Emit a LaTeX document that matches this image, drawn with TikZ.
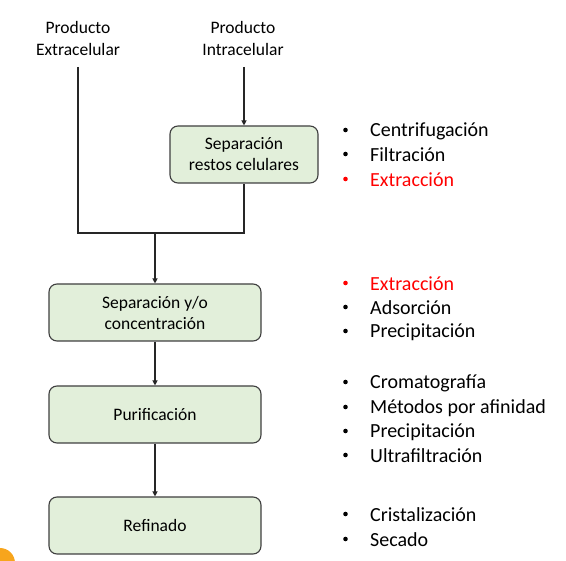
\documentclass[tikz,border=0pt]{standalone}
\usepackage{fontspec}
\setmainfont{Carlito}
\usetikzlibrary{arrows.meta}
\definecolor{boxfill}{HTML}{E2EFDA}
\definecolor{boxline}{HTML}{3F3F3F}
\definecolor{orangedot}{HTML}{F7A51C}
\begin{document}
\begin{tikzpicture}[x=1pt,y=-1pt,
  stepbox/.style={draw=boxline, line width=1.1pt, fill=boxfill, rounded corners=8pt,
    minimum width=212pt, minimum height=57pt, align=center, font=\fontsize{17.5}{21}\selectfont, inner sep=0pt},
  lbl/.style={align=center, font=\fontsize{17.5}{22}\selectfont, inner sep=0pt},
  conn/.style={draw=black!85, line width=1.1pt},
  arr/.style={conn, -{Triangle[length=5pt,width=5pt]}},
  item/.style={anchor=west, font=\fontsize{20}{22}\selectfont, inner sep=0pt},
  bul/.style={circle, inner sep=0pt, minimum size=4.6pt}
]
\useasboundingbox (0,0) rectangle (566,561);
\begin{scope}
\clip (0,0) rectangle (566,561);
\fill[orangedot] (0,563) circle (15);
\end{scope}

\node[lbl] (pe) at (78,38) {Producto\\Extracelular};
\node[lbl] (pi) at (243,38) {Producto\\Intracelular};
\coordinate (peb) at (78,67);
\coordinate (pib) at (244,67);

\node[stepbox, minimum width=148pt] (src) at (244,154.5) {Separación\\restos celulares};
\node[stepbox] (sep) at (155,312.5) {Separación y/o\\concentración};
\node[stepbox] (pur) at (155,414.5) {Purificación};
\node[stepbox] (ref) at (155,525.5) {Refinado};

\coordinate (j1) at (78,233);
\coordinate (j2) at (244,233);
\coordinate (jm) at (155,233);

\draw[arr] (pib) -- (src.north);
\draw[conn] (peb) -- (j1) -- (j2) -- (src.south);
\draw[arr] (jm) -- (sep.north);
\draw[arr] (sep.south) -- (pur.north);
\draw[arr] (pur.south) -- (ref.north);

\foreach \t/\y/\c [count=\i] in {Centrifugación/130/black, Filtración/154/black, Extracción/179/red,
  Extracción/283/red, Adsorción/307/black, Precipitación/331/black,
  Cromatografía/382/black, Métodos por afinidad/407/black, Precipitación/431/black, Ultrafiltración/455/black,
  Cristalización/514/black, Secado/539/black}{
  \node[bul, fill=\c] (b\i) at (345.5,\y) {};
  \node[item, text=\c] (t\i) at (370,\y+1) {\t};
}
\end{tikzpicture}
\end{document}
